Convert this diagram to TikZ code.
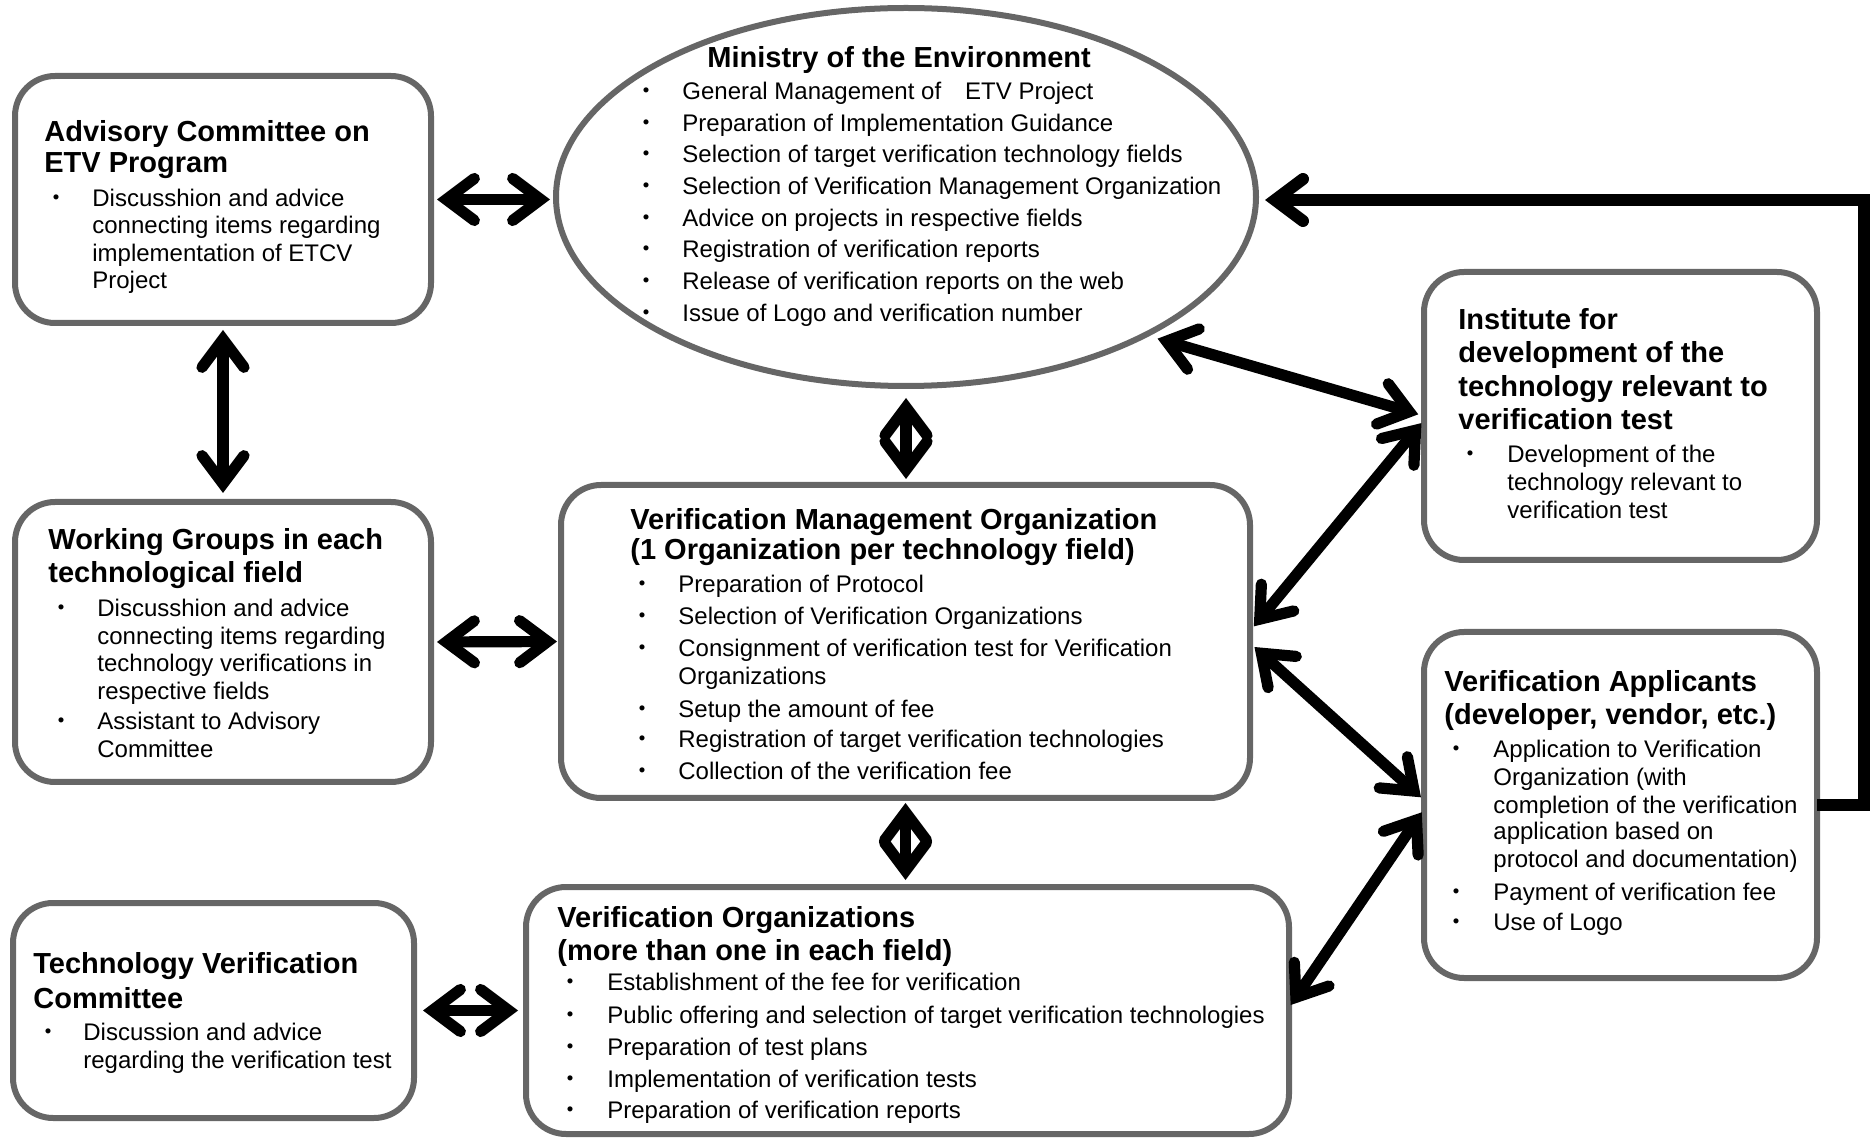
\documentclass[tikz,border=0pt]{standalone}
\usepackage{fontspec}
\setmainfont{Liberation Sans}
\newfontfamily\cjk{Noto Sans CJK JP}
\usetikzlibrary{arrows.meta,shapes.geometric,calc}
\definecolor{boxgray}{RGB}{102,102,102}
\newcommand\hdlines[3]{\foreach \yv/\tv [count=\nv] in {#3} {\node[hd,name=#1h\nv] at (#2,\yv) {\tv};}}
\newcommand\bdlines[3]{\foreach \yv/\tv [count=\nv] in {#3} {\node[bd,name=#1t\nv] at (#2,\yv) {\tv};}}
\newcommand\bullets[3]{\foreach \yv [count=\nv] in {#3} {\node[bl,name=#1b\nv] at (#2,\yv) {・};}}
\begin{document}
\begin{tikzpicture}[x=0.5pt,y=-0.5pt,
  box/.style={draw=boxgray, line width=3pt, rounded corners=20pt, rectangle, inner sep=0pt, outer sep=0pt, anchor=north west},
  hd/.style={anchor=base west, inner sep=0pt, font=\bfseries\fontsize{14.5}{17}\selectfont},
  bd/.style={anchor=base west, inner sep=0pt, font=\fontsize{12}{14}\selectfont},
  bl/.style={anchor=base, inner sep=0pt, font=\cjk\fontsize{12}{14}\selectfont},
  barb/.tip={Straight Barb[length=14pt,width=21pt,line cap=round,line join=miter]},
  arr/.style={line width=5.6pt, {barb}-{barb}},
  ret/.style={line width=6pt, line join=miter, -{barb}}]
\useasboundingbox (0,0) rectangle (1870,1138);

% boxes
\node[box, minimum width=208pt, minimum height=123.5pt] (adv) at (15,76) {};
\node[draw=boxgray, line width=3pt, ellipse, inner sep=0pt, outer sep=0pt,
      minimum width=350pt, minimum height=189pt] (min) at (906,197) {};
\node[box, minimum width=196.5pt, minimum height=144pt] (inst) at (1424,272) {};
\node[box, minimum width=208pt, minimum height=140pt] (wg) at (15,502) {};
\node[box, minimum width=344.5pt, minimum height=156.5pt] (vmo) at (561,485) {};
\node[box, minimum width=196.5pt, minimum height=173pt] (app) at (1424,632) {};
\node[box, minimum width=200.5pt, minimum height=107.5pt] (tvc) at (13,903) {};
\node[box, minimum width=381.5pt, minimum height=123.5pt] (vo) at (526,887) {};

% Advisory Committee
\hdlines{adv}{44}{142/{Advisory Committee on},173/{ETV Program}}
\bullets{adv}{56}{207}
\bdlines{adv}{92}{207/{Discusshion and advice},234/{connecting items regarding},262/{implementation of ETCV},289/{Project}}

% Ministry
\hdlines{min}{707}{68/{Ministry of the Environment}}
\bullets{min}{646}{100,132,163,195,227,258,290,322}
\bdlines{min}{682}{100/{General Management of\hspace{1em}ETV Project},132/{Preparation of Implementation Guidance},163/{Selection of target verification technology fields},195/{Selection of Verification Management Organization},227/{Advice on projects in respective fields},258/{Registration of verification reports},290/{Release of verification reports on the web},322/{Issue of Logo and verification number}}

% Institute
\hdlines{inst}{1458}{330/{Institute for},363/{development of the},397/{technology relevant to},430/{verification test}}
\bullets{inst}{1470}{463}
\bdlines{inst}{1507}{463/{Development of the},491/{technology relevant to},519/{verification test}}

% Working groups
\hdlines{wg}{48}{550/{Working Groups in each},583/{technological field}}
\bullets{wg}{61}{617,730}
\bdlines{wg}{97}{617/{Discusshion and advice},645/{connecting items regarding},672/{technology verifications in},700/{respective fields},730/{Assistant to Advisory},758/{Committee}}

% VMO
\hdlines{vmo}{630}{530/{Verification Management Organization},560/{(1 Organization per technology field)}}
\bullets{vmo}{642}{593,625,657,718,748,780}
\bdlines{vmo}{678}{593/{Preparation of Protocol},625/{Selection of Verification Organizations},657/{Consignment of verification test for Verification},685/{Organizations},718/{Setup the amount of fee},748/{Registration of target verification technologies},780/{Collection of the verification fee}}

% Applicants
\hdlines{app}{1444}{692/{Verification Applicants},725/{(developer, vendor, etc.)}}
\bullets{app}{1456}{758,900,930}
\bdlines{app}{1493}{758/{Application to Verification},785/{Organization (with},813/{completion of the verification},840/{application based on},867/{protocol and documentation)},900/{Payment of verification fee},930/{Use of Logo}}

% Technology Verification Committee
\hdlines{tvc}{33}{973/{Technology Verification},1008/{Committee}}
\bullets{tvc}{48}{1040}
\bdlines{tvc}{83}{1040/{Discussion and advice},1068/{regarding the verification test}}

% Verification Organizations
\hdlines{vo}{557}{927/{Verification Organizations},960/{(more than one in each field)}}
\bullets{vo}{570}{990,1023,1055,1087,1118}
\bdlines{vo}{607}{990/{Establishment of the fee for verification},1023/{Public offering and selection of target verification technologies},1055/{Preparation of test plans},1087/{Implementation of verification tests},1118/{Preparation of verification reports}}

% connectors
\draw[arr, shorten <=3pt, shorten >=3pt] (adv.east) -- (adv.east -| min.west);
\draw[arr, shorten <=3.5pt, shorten >=4.5pt] (adv.south) -- (wg.north);
\draw[arr, shorten <=6pt, shorten >=3pt] (min.south) -- (min.south |- vmo.north);
\draw[arr, shorten <=3pt, shorten >=2pt] (wg.east) -- (vmo.west);
\draw[arr, shorten <=2.5pt, shorten >=3.5pt] (vmo.south) -- (vmo.south |- vo.north);
\draw[arr, shorten <=4.5pt, shorten >=4pt] (tvc.east) -- (vo.west);
\draw[arr, shorten <=6.5pt, shorten >=3pt] (min.-30) -- (inst.west);
\draw[arr, shorten <=3pt, shorten >=2pt] ($(vmo.east)+(0,-10.5)$) -- ($(inst.west)+(0,4)$);
\draw[arr, shorten <=3pt, shorten >=2pt] ($(vmo.east)+(0,1.5)$) -- ($(app.west)+(0,-5)$);
\draw[arr, shorten <=1.5pt, shorten >=2pt] ($(vo.east)+(0,-3)$) -- ($(app.west)+(0,4)$);
\coordinate (rc) at (1864,200);
\draw[ret, shorten >=4.5pt] (app.east) -| (rc) -- (rc -| min.east);
\end{tikzpicture}
\end{document}
